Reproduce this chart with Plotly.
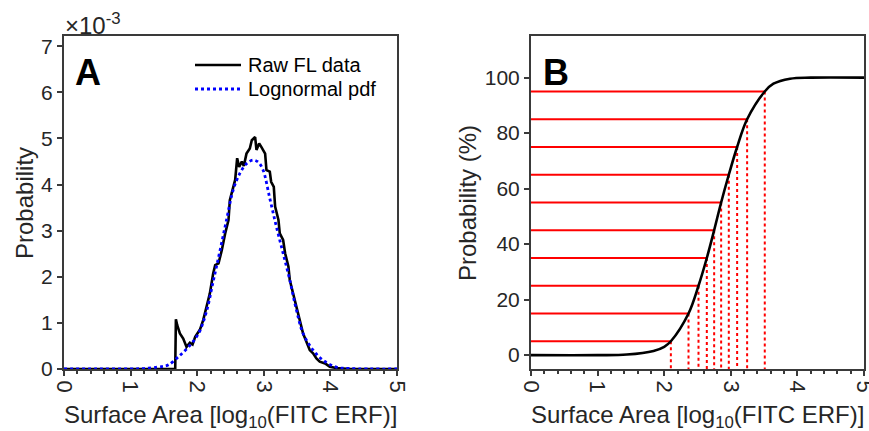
import plotly.graph_objects as go

# ---------------- data ----------------
# Panel A: raw FL data, probability in units of 1e-3
raw_x = [0.0, 1.0, 1.67, 1.68, 1.70, 1.74, 1.79, 1.84, 1.89, 1.93, 1.97, 2.04, 2.09, 2.14,
         2.19, 2.24, 2.27, 2.32, 2.37, 2.42, 2.47, 2.49, 2.54, 2.57, 2.60, 2.63, 2.67,
         2.70, 2.74, 2.79, 2.82, 2.87, 2.89, 2.93, 2.96, 3.02, 3.04, 3.09, 3.11, 3.15,
         3.17, 3.22, 3.24, 3.29, 3.32, 3.37, 3.39, 3.44, 3.49, 3.54, 3.59, 3.64, 3.69,
         3.74, 3.79, 3.84, 3.92, 3.99, 4.09, 4.30, 5.0]
raw_y = [0.0, 0.0, 0.0, 1.08, 0.95, 0.77, 0.66, 0.48, 0.57, 0.53, 0.70, 0.85, 1.06, 1.35,
         1.64, 2.07, 2.25, 2.29, 2.58, 2.94, 3.23, 3.66, 3.95, 4.10, 4.57, 4.38, 4.50,
         4.40, 4.67, 4.78, 4.96, 5.03, 4.75, 4.89, 4.82, 4.67, 4.31, 4.28, 4.06, 3.95,
         3.52, 3.23, 2.94, 2.80, 2.51, 2.22, 1.93, 1.64, 1.35, 1.06, 0.77, 0.59, 0.41,
         0.34, 0.23, 0.16, 0.12, 0.05, 0.02, 0.0, 0.0]

# Panel A: lognormal pdf (units of 1e-3)
pdf_x = [0.0, 0.5, 1.0, 1.2, 1.4, 1.5, 1.57, 1.72, 1.87, 2.02, 2.14, 2.24, 2.34, 2.44,
         2.54, 2.64, 2.74, 2.84, 2.92, 2.99, 3.09, 3.19, 3.29, 3.39, 3.49, 3.59, 3.74,
         3.89, 4.09, 4.30, 5.0]
pdf_y = [0.0, 0.0, 0.003, 0.01, 0.04, 0.06, 0.09, 0.27, 0.48, 0.77, 1.25, 1.90, 2.55,
         3.23, 3.88, 4.24, 4.45, 4.53, 4.48, 4.31, 3.70, 3.08, 2.51, 1.93, 1.28, 0.77,
         0.41, 0.19, 0.04, 0.01, 0.0]

# Panel B: cumulative probability (%)
cdf_x = [0.0, 1.0, 1.44, 1.84, 2.0, 2.10, 2.365, 2.515, 2.64, 2.75, 2.855, 2.97, 3.095,
         3.245, 3.51, 3.64, 3.89, 4.2, 5.0]
cdf_y = [0.0, 0.0, 0.2, 1.5, 3.0, 5.0, 15.0, 25.0, 35.0, 45.0, 55.0, 65.0, 75.0, 85.0,
         95.0, 97.8, 99.6, 100.0, 100.0]

# Panel B: percentile levels and their quantiles
pct_levels = [5, 15, 25, 35, 45, 55, 65, 75, 85, 95]
pct_quantiles = [2.10, 2.365, 2.515, 2.64, 2.75, 2.855, 2.97, 3.095, 3.245, 3.51]

x_ticks = [0, 1, 2, 3, 4, 5]
a_y_ticks = [0, 1, 2, 3, 4, 5, 6, 7]
b_y_ticks = [0, 20, 40, 60, 80, 100]

legend_names = ["Raw FL data", "Lognormal pdf"]

# ---------------- figure ----------------
W, H = 869, 431
FONT = "Liberation Sans, Arial, Helvetica, sans-serif"
TXT = "#262626"
AX = "#3a3a3a"

def px_x(p):
    return p / W

def px_y(p):
    return (H - p) / H

fig = go.Figure()

fig.add_trace(go.Scatter(x=raw_x, y=raw_y, mode="lines", name=legend_names[0],
                         line=dict(color="black", width=2.6),
                         xaxis="x", yaxis="y", showlegend=False))
fig.add_trace(go.Scatter(x=pdf_x, y=pdf_y, mode="lines", name=legend_names[1],
                         line=dict(color="#0000ff", width=2.8, dash="dot", shape="spline"),
                         xaxis="x", yaxis="y", showlegend=False))

# Panel B red guide lines
for lvl, q in zip(pct_levels, pct_quantiles):
    fig.add_trace(go.Scatter(x=[0, q], y=[lvl, lvl], mode="lines", showlegend=False,
                             line=dict(color="#ff0000", width=2),
                             xaxis="x2", yaxis="y2", hoverinfo="skip"))
    fig.add_trace(go.Scatter(x=[q, q], y=[lvl, -5], mode="lines", showlegend=False,
                             line=dict(color="#ff0000", width=2, dash="dot"),
                             xaxis="x2", yaxis="y2", hoverinfo="skip"))

fig.add_trace(go.Scatter(x=cdf_x, y=cdf_y, mode="lines", showlegend=False,
                         line=dict(color="black", width=2.6, shape="spline"),
                         xaxis="x2", yaxis="y2"))

common_axis = dict(showgrid=False, zeroline=False, showline=True, linecolor=AX,
                   linewidth=2, mirror=True, ticks="outside", ticklen=5,
                   tickwidth=1.5, tickcolor=AX, automargin=False,
                   ticklabeloverflow="allow")
ytickfont = dict(family=FONT, size=21, color=TXT)
xtickfont = dict(family=FONT, size=22, color=TXT)
xminor = dict(dtick=0.2, ticks="outside", ticklen=3, tickcolor=AX)

xdom_a = [px_x(64), px_x(397)]
xdom_b = [px_x(531), px_x(864)]
ydom = [px_y(369), px_y(36)]

fig.update_layout(
    width=W, height=H, margin=dict(l=0, r=0, t=0, b=0, autoexpand=False),
    plot_bgcolor="white", paper_bgcolor="white",
    font=dict(family=FONT, color=TXT),
    showlegend=False,
    xaxis=dict(domain=xdom_a, range=[0, 5], tickvals=x_ticks, tickangle=90,
               minor=xminor, anchor="y", tickfont=xtickfont, **common_axis),
    yaxis=dict(domain=ydom, range=[0, 7.22], tickvals=a_y_ticks, anchor="x",
               tickfont=ytickfont, **common_axis),
    xaxis2=dict(domain=xdom_b, range=[0, 5], tickvals=x_ticks, tickangle=90,
                minor=xminor, anchor="y2", tickfont=xtickfont, **common_axis),
    yaxis2=dict(domain=ydom, range=[-5, 115], tickvals=b_y_ticks, anchor="x2",
                tickfont=ytickfont, **common_axis),
)

# manual legend (line samples + text)
shapes = [
    dict(type="line", xref="paper", yref="paper", x0=px_x(195), x1=px_x(241),
         y0=px_y(65), y1=px_y(65), line=dict(color="black", width=2.6)),
    dict(type="line", xref="paper", yref="paper", x0=px_x(195), x1=px_x(241),
         y0=px_y(89), y1=px_y(89), line=dict(color="#0000ff", width=2.8, dash="dot")),
]
fig.update_layout(shapes=shapes)

ann = []
for name, yy in zip(legend_names, (65, 89)):
    ann.append(dict(text=name, x=px_x(246), y=px_y(yy), xref="paper", yref="paper",
                    showarrow=False, xanchor="left", yanchor="middle",
                    font=dict(family=FONT, size=20, color="black")))
# panel letters
ann.append(dict(text="<b>A</b>", x=px_x(88), y=px_y(73), xref="paper", yref="paper",
                showarrow=False, xanchor="center", yanchor="middle",
                font=dict(family=FONT, size=36, color="black")))
ann.append(dict(text="<b>B</b>", x=px_x(556), y=px_y(73), xref="paper", yref="paper",
                showarrow=False, xanchor="center", yanchor="middle",
                font=dict(family=FONT, size=36, color="black")))
# exponent label
ann.append(dict(text="×10<sup>-3</sup>", x=px_x(63), y=px_y(24), xref="paper", yref="paper",
                showarrow=False, xanchor="left", yanchor="middle",
                font=dict(family=FONT, size=24, color=TXT)))
# axis titles
xt = "Surface Area [log<sub>10</sub>(FITC ERF)]"
for cx in (230, 697):
    ann.append(dict(text=xt, x=px_x(cx), y=px_y(416), xref="paper", yref="paper",
                    showarrow=False, xanchor="center", yanchor="middle",
                    font=dict(family=FONT, size=24, color=TXT)))
ann.append(dict(text="Probability", x=px_x(25), y=px_y(203), xref="paper", yref="paper",
                showarrow=False, xanchor="center", yanchor="middle", textangle=-90,
                font=dict(family=FONT, size=24, color=TXT)))
ann.append(dict(text="Probability (%)", x=px_x(468), y=px_y(203), xref="paper", yref="paper",
                showarrow=False, xanchor="center", yanchor="middle", textangle=-90,
                font=dict(family=FONT, size=24, color=TXT)))
fig.update_layout(annotations=ann)

fig.write_html("out.html")
